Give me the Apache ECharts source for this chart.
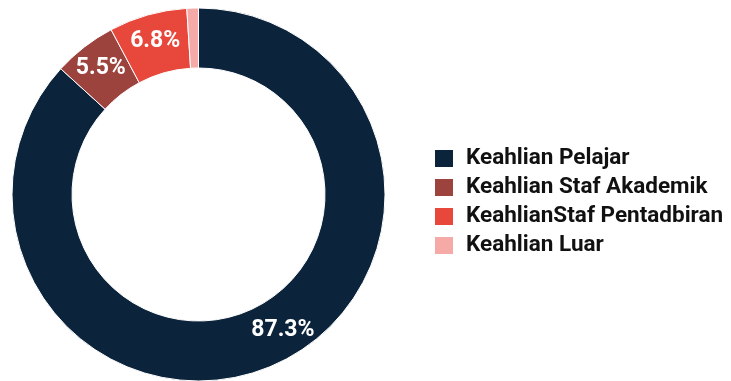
<!DOCTYPE html>
<html>
<head>
<meta charset="utf-8">
<script src="https://cdn.jsdelivr.net/npm/echarts@6/dist/echarts.min.js"></script>
<style>
html,body{margin:0;padding:0;background:#fff;}
#chart{width:731px;height:381px;}
</style>
</head>
<body>
<div id="chart"></div>
<script>
var categories = ['Keahlian Pelajar', 'Keahlian Staf Akademik', 'KeahlianStaf Pentadbiran', 'Keahlian Luar'];
var values = [87.3, 5.5, 6.8, 0.4];
var colors = ['#0b233b', '#9c433e', '#e8473b', '#f5aaa8'];
var showLabel = [true, true, true, false];

var chart = echarts.init(document.getElementById('chart'), null, {renderer: 'canvas'});
var data = categories.map(function (c, i) {
  return {
    name: c,
    value: values[i],
    itemStyle: {color: colors[i]},
    label: {show: showLabel[i]}
  };
});
chart.setOption({
  animation: false,
  backgroundColor: '#ffffff',
  legend: {
    orient: 'vertical',
    left: 435,
    top: 147,
    padding: 0,
    itemWidth: 18,
    itemHeight: 17,
    itemGap: 6,
    icon: 'rect',
    itemStyle: {borderWidth: 0},
    data: categories,
    textStyle: {
      fontFamily: 'Roboto',
      fontWeight: 'bold',
      fontSize: 22.5,
      color: '#111111',
      padding: [0, 0, 0, 8]
    }
  },
  series: [{
    type: 'pie',
    center: [198.5, 194.5],
    radius: [126.5, 186.5],
    startAngle: 90,
    clockwise: true,
    minAngle: 3.6,
    avoidLabelOverlap: false,
    itemStyle: {borderColor: '#ffffff', borderWidth: 1},
    label: {
      show: true,
      position: 'inside',
      formatter: '{c}%',
      color: '#ffffff',
      fontFamily: 'Roboto',
      fontWeight: 'bold',
      fontSize: 23
    },
    labelLayout: function (p) {
      if (p.dataIndex === 0) return {dx: 20, dy: -10};
      return {};
    },
    emphasis: {disabled: true},
    data: data
  }]
});
</script>
</body>
</html>
